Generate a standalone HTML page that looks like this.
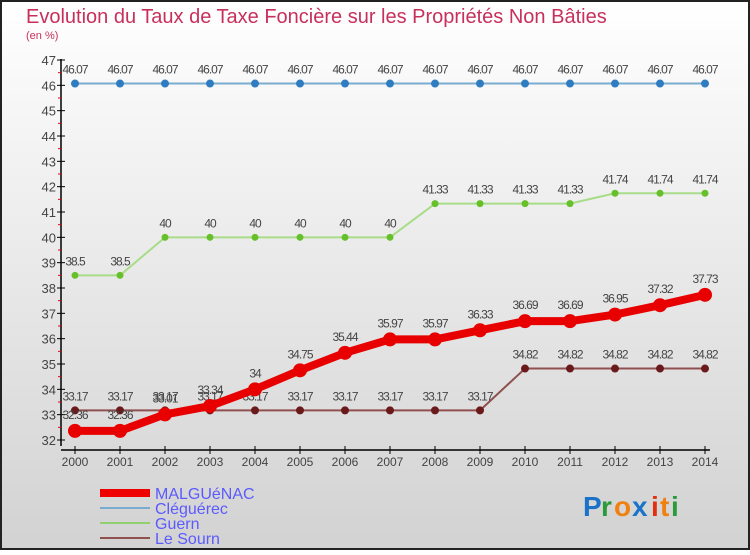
<!DOCTYPE html>
<html><head><meta charset="utf-8"><style>
body{margin:0;width:750px;height:550px;overflow:hidden;font-family:"Liberation Sans",sans-serif}
svg text{font-family:"Liberation Sans",sans-serif}
</style></head><body>
<svg id="c" width="750" height="550">
<defs><linearGradient id="bg" x1="0" y1="0" x2="0" y2="1"><stop offset="0" stop-color="#ffffff"/><stop offset="1" stop-color="#d2d2d2"/></linearGradient></defs>
<rect x="1" y="1" width="748" height="548" fill="url(#bg)" stroke="#222" stroke-width="2"/>
<text x="26" y="23" font-size="20" fill="#c8305c">Evolution du Taux de Taxe Foncière sur les Propriétés Non Bâties</text>
<text x="26" y="39" font-size="11" fill="#c8305c">(en %)</text>
<g id="axes"></g><g id="series"></g>
<g>
<line x1="100" y1="493" x2="150" y2="493" stroke="#e00" stroke-width="8"/>
<text x="155" y="499" font-size="16" fill="#5a5aff">MALGUéNAC</text>
<line x1="100" y1="508" x2="150" y2="508" stroke="#7aaccf" stroke-width="2"/>
<text x="155" y="514" font-size="16" fill="#5a5aff">Cléguérec</text>
<line x1="100" y1="523" x2="150" y2="523" stroke="#90d070" stroke-width="2"/>
<text x="155" y="529" font-size="16" fill="#5a5aff">Guern</text>
<line x1="100" y1="538" x2="150" y2="538" stroke="#905050" stroke-width="2"/>
<text x="155" y="544" font-size="16" fill="#5a5aff">Le Sourn</text>
</g>
<g font-size="28" font-weight="bold">
<text x="583" y="516" fill="#1a73c8">P</text><text x="601" y="516" fill="#2a9a3a">r</text><text x="614" y="516" fill="#f08010">o</text><text x="632" y="516" fill="#1a73c8">x</text><text x="651" y="516" fill="#e03010">i</text><text x="660" y="516" fill="#f08010">t</text><text x="671" y="516" fill="#2a9a3a">i</text>
</g>
</svg>
<script>
const years=[2000,2001,2002,2003,2004,2005,2006,2007,2008,2009,2010,2011,2012,2013,2014];
const malguenac=[32.36,32.36,33.01,33.34,34,34.75,35.44,35.97,35.97,36.33,36.69,36.69,36.95,37.32,37.73];
const cleguerec=[46.07,46.07,46.07,46.07,46.07,46.07,46.07,46.07,46.07,46.07,46.07,46.07,46.07,46.07,46.07];
const guern=[38.5,38.5,40,40,40,40,40,40,41.33,41.33,41.33,41.33,41.74,41.74,41.74];
const leSourn=[33.17,33.17,33.17,33.17,33.17,33.17,33.17,33.17,33.17,33.17,34.82,34.82,34.82,34.82,34.82];
const yTicks=[32,33,34,35,36,37,38,39,40,41,42,43,44,45,46,47];
const NS="http://www.w3.org/2000/svg";
const x=i=>75+(705-75)*i/(years.length-1);
const y=v=>440-(v-32)*(380/15);
function mk(t,a,p){const e=document.createElementNS(NS,t);for(const k in a)e.setAttribute(k,a[k]);p.appendChild(e);return e;}
const ax=document.getElementById('axes');
const ya=mk('line',{x1:61,y1:59,x2:61,y2:446,stroke:'#000','stroke-width':1.5},ax);


const xa=mk('line',{x1:61,y1:450,x2:710,y2:450,stroke:'#000','stroke-width':1.5},ax);


yTicks.forEach((v,i)=>{
  mk('line',{x1:57,y1:y(v),x2:65,y2:y(v),stroke:'#000'},ax);
  if(i<yTicks.length-1) mk('line',{x1:58,y1:y(v+0.5),x2:61,y2:y(v+0.5),stroke:'#e00'},ax);
  const t=mk('text',{x:56,y:y(v)+5,'text-anchor':'end','font-size':13,fill:'#444'},ax);
  t.textContent=v;
  
  
});
years.forEach((yr,i)=>{
  mk('line',{x1:x(i),y1:446,x2:x(i),y2:454,stroke:'#000'},ax);
  const t=mk('text',{x:x(i),y:466,'text-anchor':'middle','font-size':12,fill:'#444'},ax);
  t.textContent=yr;
  
  
});
const sg=document.getElementById('series');
function series(data,name,color,w,r,dot,labelDy){
  const g=mk('g',{},sg);
  
  
  const pl=mk('polyline',{points:data.map((v,i)=>x(i)+','+y(v)).join(' '),fill:'none',stroke:color,'stroke-width':w,'stroke-linejoin':'round'},g);
  
  
  data.forEach((v,i)=>{
    const c=mk('circle',{cx:x(i),cy:y(v),r:r,fill:dot},g);
    
    
    const t=mk('text',{x:x(i),y:y(v)+labelDy,'text-anchor':'middle','font-size':12,fill:'#444','letter-spacing':'-1'},g);
    t.textContent=v;
    
    
  });
}
series(cleguerec,'cleguerec','#7aaccf',2,4,'#2f7cc0',-10);
series(guern,'guern','#a8dc88',2,3.5,'#66c02a',-10);
series(leSourn,'le-sourn','#905050',2,4,'#6a1a1a',-10);
series(malguenac,'malguenac','#e80000',8,7,'#e80000',-12);
</script>
</body></html>
